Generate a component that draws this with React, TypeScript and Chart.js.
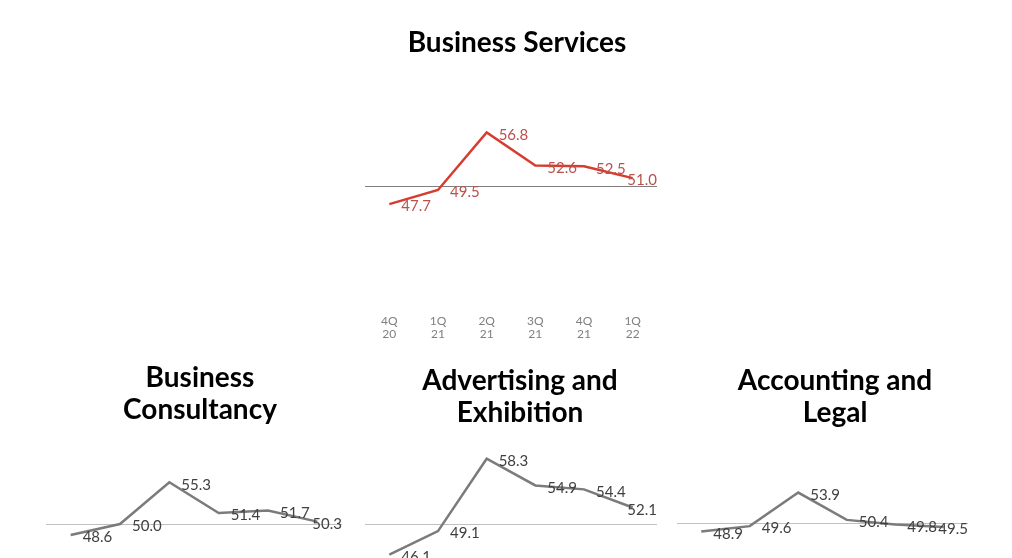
import React, { useEffect, useRef } from 'react';
import { Chart, registerables } from 'chart.js';
Chart.register(...registerables);

const quarters = [['4Q', '20'], ['1Q', '21'], ['2Q', '21'], ['3Q', '21'], ['4Q', '21'], ['1Q', '22']];
const businessServices = [47.7, 49.5, 56.8, 52.6, 52.5, 51.0];
const businessConsultancy = [48.6, 50.0, 55.3, 51.4, 51.7, 50.3];
const advertisingExhibition = [46.1, 49.1, 58.3, 54.9, 54.4, 52.1];
const accountingLegal = [48.9, 49.6, 53.9, 50.4, 49.8, 49.5];

const FONT = 'Lato, "Noto Sans", sans-serif';
const W = 1012;

type Props = {
  title: string | string[];
  values: number[];
  top: number;
  height: number;
  areaLeft: number;
  areaRight: number;
  titleCenter: number;
  titleLineY: number;
  midY: number;
  pxPerUnit: number;
  yMin: number;
  yMax: number;
  lineColor: string;
  labelColor: string;
  refColor: string;
};

function valueLabels(color: string) {
  return {
    id: 'valueLabels',
    afterDatasetsDraw(chart: any) {
      const ctx = chart.ctx;
      const meta = chart.getDatasetMeta(0);
      const ds = chart.data.datasets[0].data as number[];
      ctx.save();
      ctx.font = `15px ${FONT}`;
      ctx.fillStyle = color;
      ctx.textAlign = 'left';
      ctx.textBaseline = 'middle';
      meta.data.forEach((pt: any, i: number) => {
        const text = Number(ds[i]).toFixed(1);
        const w = ctx.measureText(text).width;
        let x = pt.x + 12;
        if (x + w > chart.chartArea.right) x = chart.chartArea.right - w;
        ctx.fillText(text, x, pt.y + 2.5);
      });
      ctx.restore();
    },
  };
}

function LineChart(p: Props) {
  const ref = useRef<HTMLCanvasElement>(null);
  useEffect(() => {
    if (!ref.current) return;
    const titleSize = 28;
    const lh = 32 / 28;
    const lineH = titleSize * lh;
    const nLines = Array.isArray(p.title) ? p.title.length : 1;
    const areaTopPage = p.midY - (p.yMax - 50) * p.pxPerUnit;
    const areaBottomPage = p.midY + (50 - p.yMin) * p.pxPerUnit;
    const areaTop = areaTopPage - p.top;
    const areaBottom = areaBottomPage - p.top;
    const titleTop = p.titleLineY - p.top - lineH / 2;
    const titleBottom = areaTop - titleTop - nLines * lineH;
    const d = p.titleCenter - (p.areaLeft + p.areaRight) / 2;
    const yWidth = Math.max(0, 2 * d);
    const xAxisH = p.height - areaBottom;

    const chart = new Chart(ref.current, {
      type: 'line',
      data: {
        labels: quarters,
        datasets: [
          {
            data: p.values,
            borderColor: p.lineColor,
            borderWidth: 2.5,
            pointRadius: 0,
            tension: 0,
            fill: false,
          },
        ],
      },
      options: {
        responsive: false,
        animation: false,
        devicePixelRatio: 1,
        layout: {
          padding: { left: p.areaLeft, right: W - p.areaRight - yWidth, top: 0, bottom: 0 },
        },
        plugins: {
          legend: { display: false },
          tooltip: { enabled: false },
          title: {
            display: true,
            text: p.title,
            color: '#000000',
            font: { family: FONT, size: titleSize, weight: 'bold', lineHeight: lh },
            padding: { top: titleTop, bottom: titleBottom },
          },
        },
        scales: {
          x: {
            offset: true,
            grid: { display: false },
            border: { display: false },
            ticks: {
              color: '#808080',
              font: { family: FONT, size: 12, lineHeight: 1.1 },
              padding: 2,
              maxRotation: 0,
              autoSkip: false,
            },
            afterFit: (s: any) => {
              s.height = xAxisH;
            },
          },
          y: {
            position: 'right',
            min: p.yMin,
            max: p.yMax,
            afterBuildTicks: (s: any) => {
              s.ticks = [{ value: 50 }];
            },
            ticks: { display: false },
            grid: { color: p.refColor, lineWidth: 1, drawTicks: false },
            border: { display: false },
            afterFit: (s: any) => {
              s.width = yWidth;
            },
          },
        },
      } as any,
      plugins: [valueLabels(p.labelColor)],
    });
    return () => chart.destroy();
  }, []);
  return (
    <canvas
      ref={ref}
      width={W}
      height={p.height}
      style={{ position: 'absolute', left: 0, top: p.top, width: W, height: p.height }}
    />
  );
}

export default function App() {
  return (
    <div
      style={{
        position: 'fixed',
        left: 0,
        top: 0,
        width: W,
        height: 558,
        overflow: 'hidden',
        background: '#ffffff',
      }}
    >
      <LineChart
        title="Business Services"
        values={businessServices}
        top={0}
        height={360}
        areaLeft={365}
        areaRight={657}
        titleCenter={517}
        titleLineY={43}
        midY={186}
        pxPerUnit={7.87}
        yMin={35}
        yMax={65}
        lineColor="#d63d30"
        labelColor="#b9514d"
        refColor="#7f7f7f"
      />
      <LineChart
        title={['Business', 'Consultancy']}
        values={businessConsultancy}
        top={340}
        height={300}
        areaLeft={46}
        areaRight={342}
        titleCenter={200}
        titleLineY={378}
        midY={524}
        pxPerUnit={7.87}
        yMin={40}
        yMax={60}
        lineColor="#7b7b7b"
        labelColor="#404040"
        refColor="#c0c0c0"
      />
      <LineChart
        title={['Advertising and', 'Exhibition']}
        values={advertisingExhibition}
        top={340}
        height={300}
        areaLeft={365}
        areaRight={657}
        titleCenter={520}
        titleLineY={381}
        midY={524}
        pxPerUnit={7.87}
        yMin={40}
        yMax={60}
        lineColor="#7b7b7b"
        labelColor="#404040"
        refColor="#c0c0c0"
      />
      <LineChart
        title={['Accounting and', 'Legal']}
        values={accountingLegal}
        top={340}
        height={300}
        areaLeft={677}
        areaRight={968}
        titleCenter={835}
        titleLineY={381}
        midY={523}
        pxPerUnit={7.8}
        yMin={40}
        yMax={60}
        lineColor="#7b7b7b"
        labelColor="#404040"
        refColor="#c0c0c0"
      />
    </div>
  );
}
